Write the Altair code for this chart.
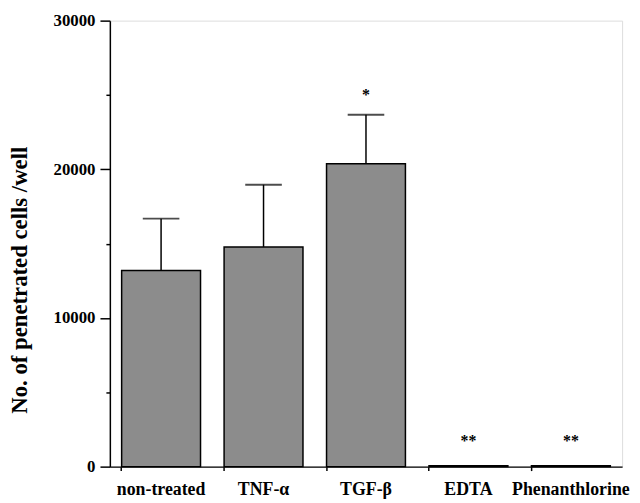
import altair as alt
import pandas as pd

categories = ["non-treated", "TNF-α", "TGF-β", "EDTA", "Phenanthlorine"]
means = [13200, 14780, 20380, 60, 60]
err_top = [16680, 18960, 23670, None, None]
marks = ["", "", "*", "**", "**"]
mark_y = [None, None, 25000, 1700, 1700]
y_ticks = [0, 5000, 10000, 15000, 20000, 25000, 30000]

df = pd.DataFrame({"cat": categories, "mean": means, "err": err_top,
                   "star": marks, "star_y": mark_y})

FONT = "Liberation Serif"
xenc = alt.X("cat:N", sort=categories, title=None,
             scale=alt.Scale(paddingInner=0.23, paddingOuter=0.115),
             axis=alt.Axis(labelAngle=0, bandPosition=0, ticks=True, tickSize=4,
                           labelPadding=10, labelFontSize=18, labelFont=FONT,
                           labelFontWeight="bold", labelColor="black",
                           domainColor="black", domainWidth=1.5, tickColor="black",
                           tickWidth=1.5))
yscale = alt.Scale(domain=[0, 30000], nice=False)

bars = alt.Chart(df).mark_bar(color="#8c8c8c", stroke="black", strokeWidth=1.5).encode(
    x=xenc,
    y=alt.Y("mean:Q", scale=yscale, title="No. of penetrated cells /well",
            axis=alt.Axis(values=y_ticks, format="d",
                          labelExpr="datum.value % 10000 === 0 ? datum.label : ''",
                          tickSize={"condition": {"test": "datum.value % 10000 === 0", "value": 10}, "value": 4},
                          tickWidth=1.5, tickColor="black", domainColor="black",
                          domainWidth=1.5, labelFont=FONT, labelFontWeight="bold",
                          labelFontSize=17, labelColor="black", labelPadding=5,
                          titleFont=FONT, titleFontWeight="bold", titleFontSize=23,
                          titleColor="black", titleX=-91, titleY=262,
                          titleAlign="center", titleBaseline="middle", titleAngle=270,
                          grid=False))
)

err_df = df.dropna(subset=["err"])
rules = alt.Chart(err_df).mark_rule(color="black", strokeWidth=1.5).encode(
    x=alt.X("cat:N", sort=categories), y=alt.Y("mean:Q", scale=yscale), y2="err:Q")
caps = alt.Chart(err_df).mark_tick(color="black", size=37, thickness=1.8,
                                   orient="horizontal").encode(
    x=alt.X("cat:N", sort=categories), y=alt.Y("err:Q", scale=yscale))

stars = alt.Chart(df.dropna(subset=["star_y"])).mark_text(
    font=FONT, fontSize=16, fontWeight="bold", color="black", baseline="middle").encode(
    x=alt.X("cat:N", sort=categories), y=alt.Y("star_y:Q", scale=yscale), text="star:N")

chart = alt.layer(bars, rules, caps, stars).properties(
    width=518, height=451,
    autosize=alt.AutoSizeParams(type="none"),
    padding={"left": 103, "top": 10, "right": 10, "bottom": 34},
).configure_view(stroke="black", strokeWidth=1.5).configure(background="white")

chart.save("out.html", embed_options={"renderer": "svg", "actions": False})
